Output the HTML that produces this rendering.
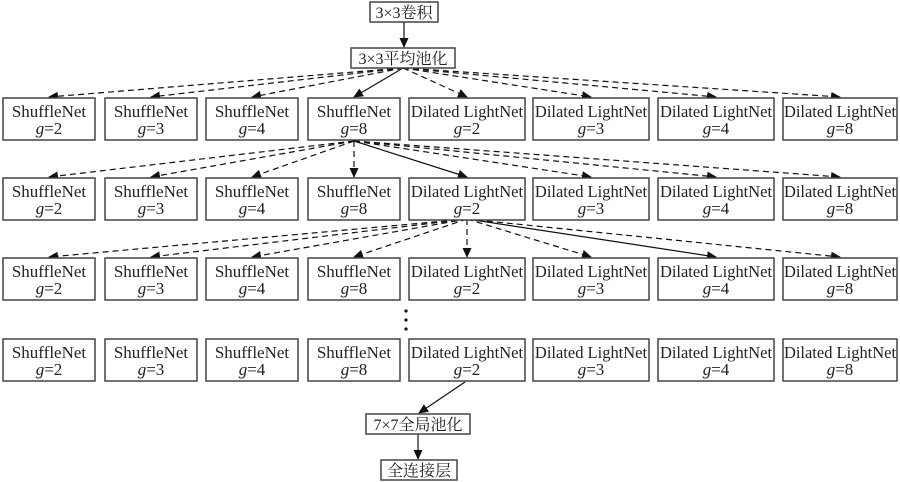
<!DOCTYPE html>
<html><head><meta charset="utf-8"><style>
body{margin:0;background:#fff;}
svg{display:block}
text{font-family:"Liberation Serif","Noto Serif CJK SC",serif;fill:#222;}
</style></head><body>
<svg id="s" width="900" height="482" xmlns="http://www.w3.org/2000/svg">
<defs><marker id="a" markerWidth="10" markerHeight="10" refX="9" refY="5" orient="auto" markerUnits="userSpaceOnUse"><path d="M0,0.5 L10,5 L0,9.5 z" fill="#111"/></marker></defs>
<g id="g"></g>
</svg>
<script>
var g=document.getElementById('g'),h='';
function box(x,y,w,hh){h+='<rect x="'+x+'" y="'+y+'" width="'+w+'" height="'+hh+'" fill="#fff" stroke="#444" stroke-width="1.5"/>';}
function t(x,y,s,sz,it,sx){h+='<text x="'+x+'" y="'+y+'" font-size="'+sz+'" text-anchor="middle"'+(it?' font-style="italic"':'')+(sx?' transform="translate('+x+' 0) scale('+sx+' 1) translate('+(-x)+' 0)"':'')+'>'+s+'</text>';}
function ln(x1,y1,x2,y2,d){h+='<line x1="'+x1+'" y1="'+y1+'" x2="'+x2+'" y2="'+y2+'" stroke="#111" stroke-width="1.2"'+(d?' stroke-dasharray="6,4"':'')+' marker-end="url(#a)"/>';}
var cols=[[3,92],[105,92],[206,92],[308,92],[409,116],[533,116],[658,116],[783,114]];
var gs=['2','3','4','8','2','3','4','8'];
var rows=[98,178,258,339];
function c(i){return cols[i][0]+cols[i][1]/2;}
var src=[[403,68],[354,141],[467,219]], solid=[3,4,6];
for(var r=0;r<3;r++){for(var i=0;i<8;i++){ln(src[r][0],src[r][1],c(i),rows[r]-1,i!=solid[r]);}}
ln(465,382,419,413,false);
ln(404,22,404,47,false);
ln(418,434,418,459,false);
for(var r=0;r<4;r++){for(var i=0;i<8;i++){var x=cols[i][0],w=cols[i][1],y=rows[r];box(x,y,w,42);
 var cx=x+w/2; if(i<4)t(cx,y+19,'ShuffleNet',17,false,1.0);else t(cx,y+19,'Dilated LightNet',17,false,0.97);
 h+='<text x="'+cx+'" y="'+(y+36)+'" font-size="17" text-anchor="middle"><tspan font-style="italic">g</tspan>=' +gs[i]+'</text>';}}
box(370,2,68,20);t(404,18,'3×3卷积',16);
box(351,48,104,20);t(403,64,'3×3平均池化',16);
box(366,414,104,20);t(418,430,'7×7全局池化',16);
box(381,460,76,20);t(419,476,'全连接层',16);
[311,320,329].forEach(function(y){h+='<circle cx="406" cy="'+y+'" r="1.6" fill="#111"/>';});
g.innerHTML=h;
</script>
</body></html>
